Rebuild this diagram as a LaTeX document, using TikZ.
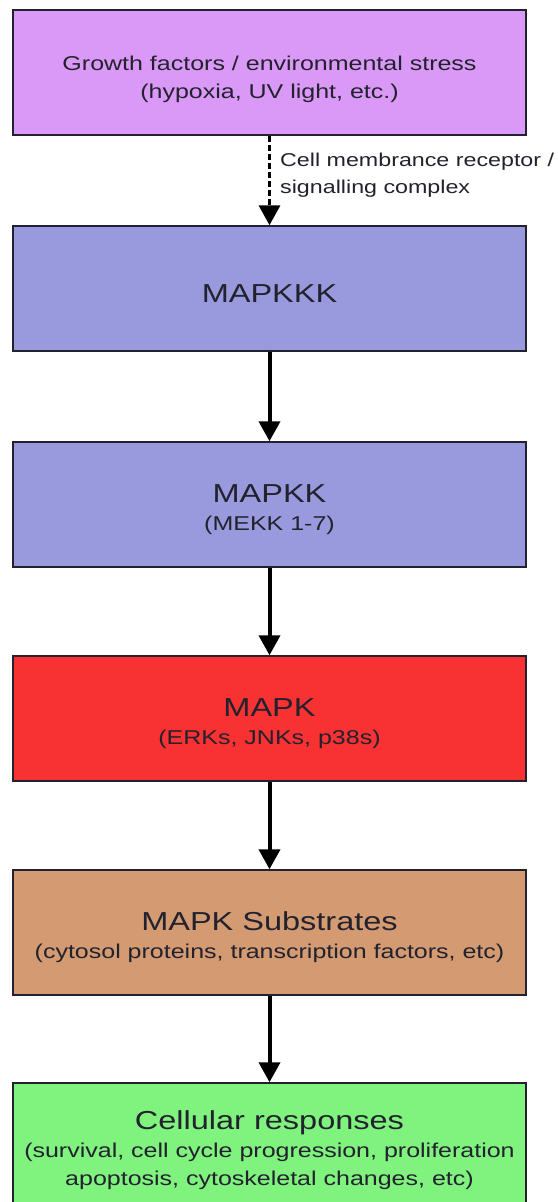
\documentclass[tikz,border=0pt]{standalone}
\usepackage{fontspec}
\setmainfont[FakeStretch=1.25]{Liberation Sans}
\usetikzlibrary{positioning, arrows.meta}
\definecolor{ink}{HTML}{22222E}
\definecolor{stress}{HTML}{DA99F6}
\definecolor{kinase}{HTML}{9999DD}
\definecolor{mapk}{HTML}{F83232}
\definecolor{subst}{HTML}{D49A72}
\definecolor{resp}{HTML}{80F27E}
% first line pushed down a little, as in the drawing
\newcommand{\lift}{\rule{0pt}{28.5pt}}
\newcommand{\bigtxt}[1]{{\fontsize{26}{31}\selectfont\lift #1}}

\begin{document}
\begin{tikzpicture}[x=1pt, y=-1pt, font=\fontsize{20}{28}\selectfont,
  box/.style={draw=ink, line width=1.5pt, minimum width=513pt, minimum height=125pt, align=center, inner sep=0pt, text=ink},
  arr/.style={-{Triangle[length=20pt, width=21pt]}, line width=4pt, black},
  lbl/.style={align=left, font=\fontsize{18.6}{27}\selectfont, text=ink, inner sep=0pt}
]
  \useasboundingbox (0,0) rectangle (558,1202);

  \node[box, fill=stress] (stress) at (269.5,72.5) {\lift Growth factors / environmental stress\\(hypoxia, UV light, etc.)};
  \node[box, fill=kinase] (mkkk) at (269.5,288.5) {\bigtxt{MAPKKK}};
  \node[box, fill=kinase] (mkk) at (269.5,504.5) {\bigtxt{MAPKK}\\(MEKK 1-7)};
  \node[box, fill=mapk] (mk) at (269.5,718.5) {\bigtxt{MAPK}\\(ERKs, JNKs, p38s)};
  \node[box, fill=subst] (sub) at (269.5,932.5) {\bigtxt{MAPK Substrates}\\(cytosol proteins, transcription factors, etc)};
  \node[box, fill=resp] (cell) at (269.5,1145.5) {\bigtxt{Cellular responses}\\(survival, cell cycle progression, proliferation\\apoptosis, cytoskeletal changes, etc)};

  \node[lbl, anchor=west] (rcpt) at (280,175) {Cell membrance receptor /\\signalling complex};

  \draw[arr, dash pattern=on 6pt off 3pt, line width=3.5pt] (stress) -- (mkkk);
  \draw[arr] (mkkk) -- (mkk);
  \draw[arr] (mkk) -- (mk);
  \draw[arr] (mk) -- (sub);
  \draw[arr] (sub) -- (cell);
\end{tikzpicture}
\end{document}
